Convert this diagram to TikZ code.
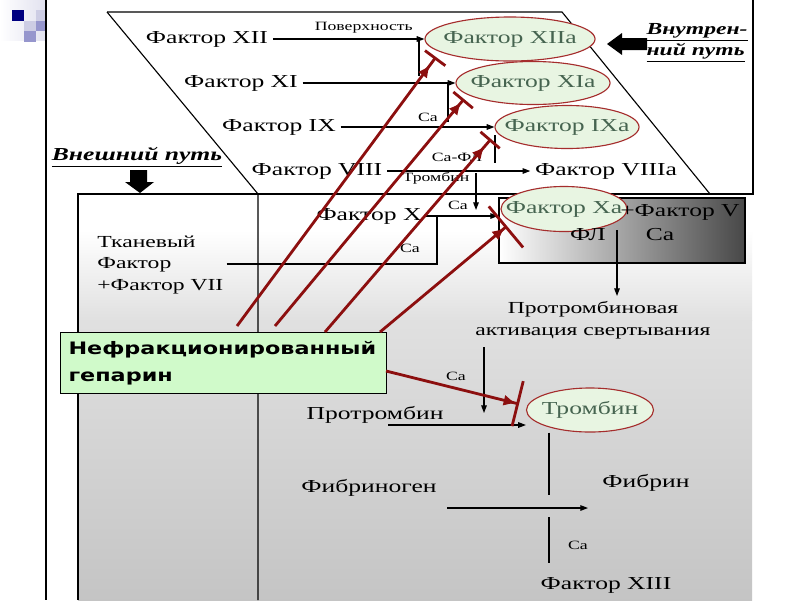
\documentclass[tikz,border=0pt]{standalone}
\usepackage{fontspec}
\setmainfont[FakeStretch=1.4]{Liberation Serif}
\newfontfamily\hepfont[FakeStretch=1.3]{DejaVu Sans}
\usetikzlibrary{shapes.geometric,arrows.meta,positioning,calc}
\definecolor{ovalfill}{RGB}{232,245,226}
\definecolor{ovalline}{RGB}{165,45,45}
\definecolor{ovaltext}{RGB}{70,100,80}
\definecolor{heparred}{RGB}{140,15,15}
\definecolor{heparfill}{RGB}{208,250,202}
\definecolor{sqdark}{RGB}{0,0,128}
\definecolor{sqmid}{RGB}{150,150,205}
\definecolor{sqlight}{RGB}{205,205,228}

\begin{document}
\begin{tikzpicture}[x=0.025cm,y=-0.025cm,line width=0.8pt,
   big/.style={font=\fontsize{13}{15}\selectfont,inner sep=3pt},
   mid/.style={font=\fontsize{12}{15.3}\selectfont,inner sep=2pt},
   small/.style={font=\fontsize{9}{10}\selectfont,inner sep=1pt},
   oval/.style={ellipse,draw=ovalline,fill=ovalfill,text=ovaltext,inner sep=0pt,
      font=\fontsize{13}{15}\selectfont},
   arr/.style={-{Triangle[length=5.5pt,width=4pt]}},
   stopper/.style 2 args={heparred,line width=2pt,
      -{Latex[length=9pt,width=8pt,sep=#1]Bar[width=#2]}}]
   \useasboundingbox (0,0) rectangle (800,600);
   \fill[white] (0,0) rectangle (800,600);
   % corner squares
   \shade[left color=white,right color=sqlight!60] (0,0) rectangle (46,40);
   \fill[sqdark] (12,10) rectangle (24,21);
   \fill[sqlight] (24,21) rectangle (36,31);
   \fill[sqlight] (36,10) rectangle (46,21);
   \fill[sqmid] (36,21) rectangle (46,31);
   \fill[sqmid] (24,31) rectangle (36,42);
   \draw[line width=1pt] (46,0) -- (46,600);
   %
   % panels
   \shade[top color=white,bottom color=black!12] (78,230) rectangle (752,320);
   \shade[top color=black!12,bottom color=black!23] (78,320) rectangle (752,600);
   \draw (78,600) -- (78,194) -- (753,194) -- (753,0);
   \draw (107,12) -- (562,12) -- (710,194);
   \draw (107,12) -- (258,194) -- (258,600);
   %
   % pathway labels
   \node[font=\fontsize{13}{15}\selectfont\bfseries\itshape] (ext) at (137,157) {\underline{Внешний путь}};
   \fill (130,170) -- (147,170) -- (147,182) -- (154,182) -- (140,193) -- (125,182) -- (130,182) -- cycle;
   \node[anchor=west,align=left,inner sep=0pt,font=\fontsize{12}{15}\selectfont\bfseries\itshape] (intr) at (646,43) {\underline{Внутрен-}\\\underline{ний путь}};
   \fill (647,38) -- (622,38) -- (622,33) -- (607,44) -- (622,55) -- (622,50) -- (647,50) -- cycle;
   %
   % intrinsic cascade
   \node[big] (f12) at (207,39) {Фактор XII};
   \node[oval,minimum width=4.25cm,minimum height=1.1cm] (f12a) at (510,39) {\makebox[0pt]{Фактор XIIa}};
   \node[big] (f11) at (241,83) {Фактор XI};
   \node[oval,minimum width=3.85cm,minimum height=1.075cm] (f11a) at (533,83) {\makebox[0pt]{Фактор XIa}};
   \node[big] (f9) at (279,127) {Фактор IX};
   \node[oval,minimum width=3.6cm,minimum height=1.075cm] (f9a) at (567,127) {\makebox[0pt]{Фактор IXa}};
   \node[big] (f8) at (317,171) {Фактор VIII};
   \node[big] (f8a) at (606,171) {Фактор VIIIa};
   \node[big] (f10) at (369,216) {Фактор X};
   %
   \draw[arr] (f12.east) -- (f12.east -| f12a.west) node[pos=0.6,above=3pt,small] {Поверхность};
   \draw[arr] (f11.east) -- (f11.east -| f11a.west);
   \draw[arr] (f9.east) -- (f9.east -| f9a.west);
   \draw[arr] (f8.east) -- (f8a.west);
   \coordinate (j12) at (419,39);
   \coordinate (j11) at (448,83);
   \coordinate (j9) at (495,135);
   \coordinate (jth) at (476,173);
   \coordinate (j10) at (437,216);
   \draw (j12) -- ++(0,37);
   \draw (j11) -- ++(0,39);
   \draw (j9) -- ++(0,28);
   \draw[arr] (jth) -- ++(0,37);
   \node[small] (ca9) at (428,117) {Ca};
   \node[small] (cafl) at (457,157) {Ca-ФЛ};
   \node[small] (thr8) at (436,178) {Тромбин};
   \node[small] (ca10) at (458,205) {Ca};
   %
   % tissue factor
   \node[mid,anchor=west,align=left] (tf) at (94,265) {Тканевый\\Фактор\\+Фактор VII};
   \draw (tf.east |- 0,264) -- (j10 |- 0,264) -- (j10);
   \node[small] (catf) at (410,248) {Ca};
   %
   % prothrombinase
   \node[draw,line width=1.6pt,anchor=north west,minimum width=6.15cm,minimum height=1.625cm,
      left color=white,middle color=black!28,right color=black!72] (xbox) at (498,197) {};
   \draw[arr] (f10.east) -- (f10.east -| xbox.west);
   \node[oval,minimum width=3.15cm,minimum height=1.125cm] (f10a) at (564,209) {\makebox[0pt]{Фактор Xa}};
   \node[big,inner sep=0pt] (f5) at (680,212) {+Фактор V};
   \node[big] (fl) at (588,235) {ФЛ};
   \node[big] (cab) at (660,235) {Ca};
   \node[mid,align=center] (ptr) at (593,320) {Протромбиновая\\активация свертывания};
   \coordinate (xd) at (617,230);
   \draw[arr] (xd) -- (617,296);
   %
   % thrombin and fibrin
   \node[big] (prot) at (375,415) {Протромбин};
   \node[oval,minimum width=3.175cm,minimum height=1.1cm] (thr) at (590,410) {\makebox[0pt]{Тромбин}};
   \coordinate (pa) at (484,347);
   \draw[arr] (pa) -- ++(0,66);
   \node[small] (caprot) at (456,376) {Ca};
   \coordinate (pb) at (388,425);
   \draw[arr] (pb) -- (pb -| thr.west);
   \node[big] (fgn) at (369,488) {Фибриноген};
   \node[big] (fbr) at (646,483) {Фибрин};
   \coordinate (fa) at (447,508);
   \draw[arr] (fa) -- ++(141,0);
   \draw (thr.south -| 549,0) -- (549,495);
   \draw (549,517) -- (549,563);
   \node[small] (ca13) at (578,545) {Ca};
   \node[big] (f13) at (606,585) {Фактор XIII};
   %
   % heparin
   \node[draw,fill=heparfill,anchor=north west,minimum width=8.15cm,minimum height=1.525cm,
      text width=7.75cm,align=left,inner sep=0pt,font=\fontsize{12.2}{19}\hepfont\bfseries] (hep) at (60,332) {Нефракционированный\\гепарин};
   \coordinate (h1) at (237,326);
   \coordinate (h2) at (275,326);
   \coordinate (h3) at (325,332);
   \coordinate (h4) at (380,332);
   \coordinate (h5) at (386,371);
   \coordinate (s1) at (436,57);
   \coordinate (s2) at (464,99);
   \coordinate (s3) at (491,139);
   \coordinate (s4) at (507,226);
   \coordinate (s5) at (519,404);
   \draw[stopper={5pt}{18pt}] (h1) -- (s1);
   \draw[stopper={1pt}{18pt}] (h2) -- (s2);
   \draw[stopper={5pt}{18pt}] (h3) -- (s3);
   \draw[stopper={0pt}{38pt}] (h4) -- (s4);
   \draw[stopper={0pt}{33pt}] (h5) -- (s5);
   %
\end{tikzpicture}
\end{document}
